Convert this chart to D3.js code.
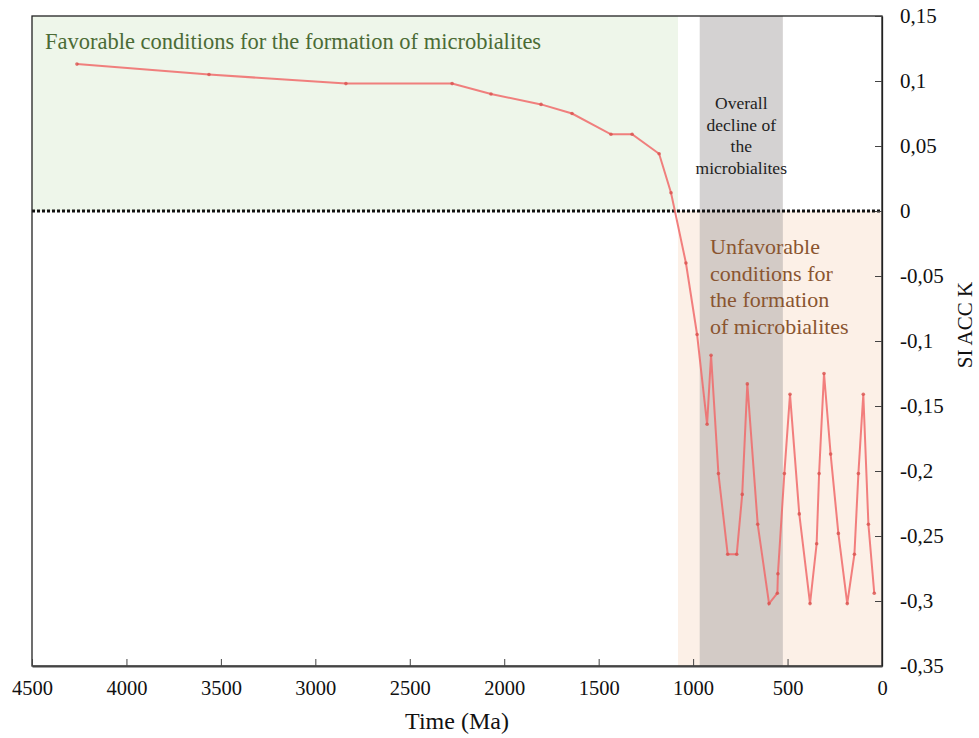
<!DOCTYPE html>
<html>
<head>
<meta charset="utf-8">
<script src="https://cdn.jsdelivr.net/npm/d3@7"></script>
<style>
  body { margin: 0; background: #fff; }
  svg text { font-family: "Liberation Serif", "Times New Roman", serif !important; }
</style>
</head>
<body>
<div class="container"></div>
<script>
// time in Ma, SI ACC K values
const times = [4262, 3563, 2838, 2276, 2070, 1805, 1641, 1435, 1323, 1180, 1117,
  1038, 979, 926, 905, 866, 817, 769, 740, 713, 658, 598, 554, 551, 517, 487, 438,
  381, 346, 333, 307, 272, 231, 184, 146, 125, 99, 72, 41];
const values = [0.113, 0.105, 0.098, 0.098, 0.090, 0.082, 0.075, 0.059, 0.059, 0.044, 0.014,
  -0.040, -0.095, -0.164, -0.111, -0.202, -0.264, -0.264, -0.218, -0.133, -0.241, -0.302, -0.294, -0.279, -0.202, -0.141, -0.233,
  -0.302, -0.256, -0.202, -0.125, -0.187, -0.248, -0.302, -0.264, -0.202, -0.141, -0.241, -0.294];
const xTicks = [4500, 4000, 3500, 3000, 2500, 2000, 1500, 1000, 500, 0];
const yTicks = [0.15, 0.1, 0.05, 0, -0.05, -0.1, -0.15, -0.2, -0.25, -0.3, -0.35];
// shaded periods (Ma)
const favorable = [4500, 1080];
const unfavorable = [1080, 0];
const decline = [965, 525];

const w = 979, h = 738;
const pL = 32, pR = 882, pT = 16, pB = 666;

const svg = d3.select('.container')
  .append('svg')
  .attr('width', w)
  .attr('height', h);

const x = d3.scaleLinear().domain([4500, 0]).range([pL, pR]);
const y = d3.scaleLinear().domain([0.15, -0.35]).range([pT, pB]);

// background zones
svg.append('rect')
  .attr('x', x(favorable[0])).attr('y', y(0.15))
  .attr('width', x(favorable[1]) - x(favorable[0]))
  .attr('height', y(0) - y(0.15))
  .attr('fill', '#eef6ea');

svg.append('rect')
  .attr('x', x(unfavorable[0])).attr('y', y(0))
  .attr('width', x(unfavorable[1]) - x(unfavorable[0]))
  .attr('height', y(-0.35) - y(0))
  .attr('fill', '#fcf0e7');

svg.append('rect')
  .attr('x', x(decline[0])).attr('y', y(0.15))
  .attr('width', x(decline[1]) - x(decline[0]))
  .attr('height', y(-0.35) - y(0.15))
  .attr('fill', '#a9a5a5')
  .attr('opacity', 0.5);

// zero line
svg.append('line')
  .attr('x1', pL).attr('x2', pR)
  .attr('y1', y(0)).attr('y2', y(0))
  .attr('stroke', '#111')
  .attr('stroke-width', 3)
  .attr('stroke-dasharray', '3,2');

// frame
svg.append('rect')
  .attr('x', pL).attr('y', pT)
  .attr('width', pR - pL).attr('height', pB - pT)
  .attr('fill', 'none')
  .attr('stroke', '#222')
  .attr('stroke-width', 1.3);

// series
const pts = times.map((t, i) => [t, values[i]]);
const line = d3.line().x(d => x(d[0])).y(d => y(d[1]));

svg.append('path')
  .datum(pts)
  .attr('d', line)
  .attr('fill', 'none')
  .attr('stroke', '#f06a6a')
  .attr('stroke-opacity', 0.85)
  .attr('stroke-width', 2);

svg.selectAll('circle.pt')
  .data(pts)
  .enter()
  .append('circle')
  .attr('class', 'pt')
  .attr('cx', d => x(d[0]))
  .attr('cy', d => y(d[1]))
  .attr('r', 1.8)
  .attr('fill', '#d9534f')
  .attr('opacity', 0.8);

// axes
const fmt = d => d === 0 ? '0' : String(+d.toFixed(2)).replace('.', ',');

const xAxis = svg.append('g')
  .attr('transform', `translate(0, ${pB})`)
  .call(d3.axisBottom(x).tickValues(xTicks).tickFormat(d => String(d))
    .tickSizeInner(-7).tickSizeOuter(0).tickPadding(14));
xAxis.select('.domain').attr('stroke', '#444').attr('stroke-width', 2);
xAxis.selectAll('.tick line').attr('stroke', '#444');
xAxis.selectAll('text').attr('font-size', 20.5).attr('fill', '#111');

const yAxis = svg.append('g')
  .attr('transform', `translate(${pR}, 0)`)
  .call(d3.axisRight(y).tickValues(yTicks).tickFormat(fmt).tickSizeInner(-7).tickSizeOuter(0).tickPadding(18));
yAxis.select('.domain').attr('stroke', '#222').attr('stroke-width', 1.3);
yAxis.selectAll('.tick line').attr('stroke', '#444');
yAxis.selectAll('text').attr('font-size', 21).attr('fill', '#111');

// axis titles
svg.append('text')
  .attr('x', x(2250)).attr('y', 729)
  .attr('text-anchor', 'middle')
  .attr('font-size', 24)
  .attr('fill', '#111')
  .text('Time (Ma)');

svg.append('text')
  .attr('transform', `translate(972, 325) rotate(-90)`)
  .attr('text-anchor', 'middle')
  .attr('font-size', 21)
  .attr('fill', '#111')
  .text('SI ACC K');

// zone labels
svg.append('text')
  .attr('x', 45).attr('y', 49)
  .attr('font-size', 22.5)
  .attr('fill', '#4b6b35')
  .text('Favorable conditions for the formation of microbialites');

const decLines = ['Overall', 'decline of', 'the', 'microbialites'];
svg.selectAll('text.dec')
  .data(decLines)
  .enter()
  .append('text')
  .attr('class', 'dec')
  .attr('x', (x(decline[0]) + x(decline[1])) / 2)
  .attr('y', (d, i) => 109 + i * 21.7)
  .attr('text-anchor', 'middle')
  .attr('font-size', 17.5)
  .attr('fill', '#222')
  .text(d => d);

const unLines = ['Unfavorable', 'conditions for', 'the formation', 'of microbialites'];
svg.selectAll('text.unf')
  .data(unLines)
  .enter()
  .append('text')
  .attr('class', 'unf')
  .attr('x', 710)
  .attr('y', (d, i) => 254 + i * 26.5)
  .attr('font-size', 22)
  .attr('fill', '#8a5530')
  .text(d => d);
</script>
</body>
</html>
